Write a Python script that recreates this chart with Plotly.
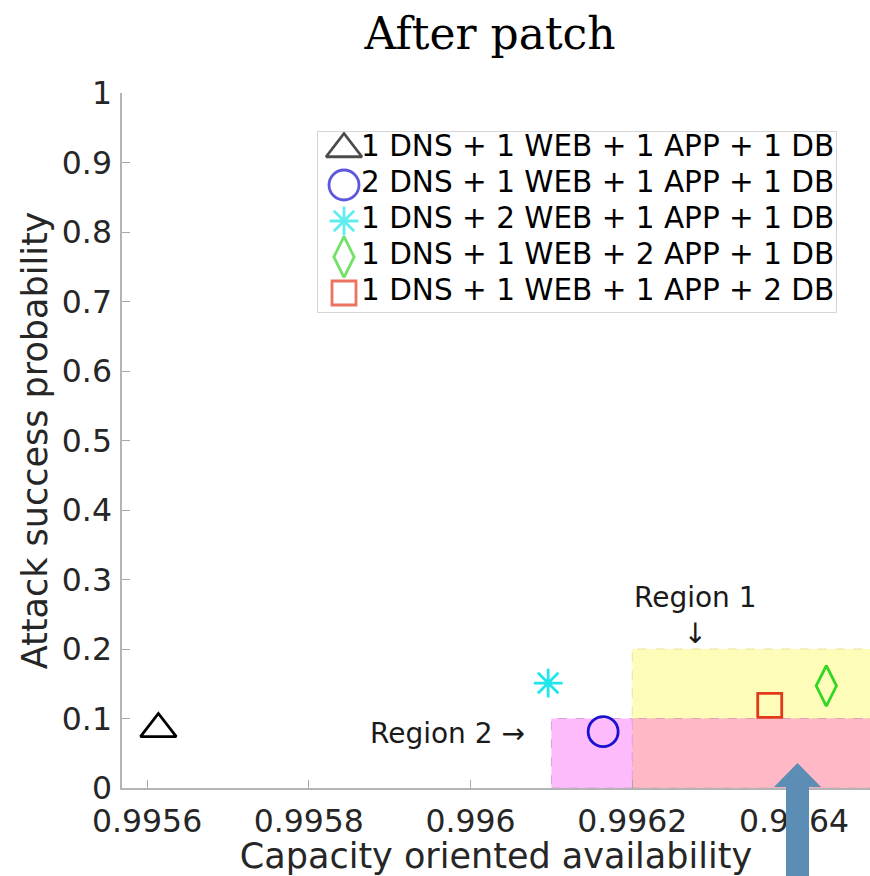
import plotly.graph_objects as go

# ---------------- data ----------------
labels = [
    "1 DNS + 1 WEB + 1 APP + 1 DB",
    "2 DNS + 1 WEB + 1 APP + 1 DB",
    "1 DNS + 2 WEB + 1 APP + 1 DB",
    "1 DNS + 1 WEB + 2 APP + 1 DB",
    "1 DNS + 1 WEB + 1 APP + 2 DB",
]
availability = [0.995614, 0.996164, 0.996096, 0.996440, 0.996370]
attack_prob = [0.085, 0.081, 0.151, 0.147, 0.119]

symbols = ["triangle-up-open", "circle-open", "asterisk-open", "diamond-tall-open", "square-open"]
colors = ["#000000", "#1a10d0", "#1ee6ea", "#34d624", "#e2381c"]
sizes = [31, 30, 24, 29, 24]

x_ticks = [0.9956, 0.9958, 0.996, 0.9962, 0.9964]
x_ticktext = ["0.9956", "0.9958", "0.996", "0.9962", "0.9964"]
y_ticks = [0, 0.1, 0.2, 0.3, 0.4, 0.5, 0.6, 0.7, 0.8, 0.9, 1]
y_ticktext = ["0", "0.1", "0.2", "0.3", "0.4", "0.5", "0.6", "0.7", "0.8", "0.9", "1"]

x_range = [0.995569, 0.996494]
y_range = [0, 1]

# regions: (x0, x1, y0, y1)
region1_box = (0.9962, 0.9966, 0.1, 0.2)
region_pink_box = (0.9962, 0.9966, 0.0, 0.1)
region2_box = (0.99610, 0.9962, 0.0, 0.1)

# ---------------- layout geometry (pixels) ----------------
W, H = 870, 876
ML, MR, MT, MB = 122, 0, 93, 88
PW, PH = W - ML - MR, H - MT - MB


def px(x):
    return (x - ML) / PW


def py(y):
    return (H - MB - y) / PH


fig = go.Figure()

# data markers
for i in range(len(labels)):
    fig.add_trace(go.Scatter(
        x=[availability[i]], y=[attack_prob[i]], mode="markers", name=labels[i],
        showlegend=False,
        marker=dict(symbol=symbols[i], size=sizes[i], color=colors[i],
                    line=dict(color=colors[i], width=2.8)),
        cliponaxis=False,
    ))

# custom legend (drawn on a helper axis)
leg_w, leg_h = 518, 180
leg_rows = [17 + 36 * i for i in range(len(labels))]
fig.add_trace(go.Scatter(
    x=[26] * len(labels), y=leg_rows, mode="markers", showlegend=False,
    xaxis="x3", yaxis="y3", hoverinfo="skip",
    marker=dict(symbol=symbols, size=sizes, color=colors,
                line=dict(color=colors, width=2.8)),
))
fig.add_trace(go.Scatter(
    x=[43] * len(labels), y=leg_rows, mode="text", text=labels,
    textposition="middle right", showlegend=False,
    xaxis="x3", yaxis="y3", hoverinfo="skip",
    textfont=dict(family="DejaVu Sans", size=29.5, color="#000000"),
))

shapes = []
# regions
for (box, fill, line) in [
    (region1_box, "#fdfcb8", "#e6e39a"),
    (region_pink_box, "#ffb8c6", "#e8a0b0"),
    (region2_box, "#fdbbfb", "#d9a0d9"),
]:
    shapes.append(dict(type="rect", xref="x", yref="y", x0=box[0], x1=box[1], y0=box[2], y1=box[3],
                       fillcolor=fill, line=dict(color=line, width=1, dash="dash"), layer="below"))

# legend box
legx0, legx1 = px(318), px(836)
legy1, legy0 = py(132), py(312)
shapes.append(dict(type="rect", xref="paper", yref="paper", x0=legx0, x1=legx1, y0=legy0, y1=legy1,
                   fillcolor="white", line=dict(color="#c8c8c8", width=1.5), layer="below"))

# blue arrow overlay
cx = 797.5
pts = [(786, 880), (786, 787), (774, 787), (cx, 763), (821, 787), (809, 787), (809, 880)]
path = "M " + " L ".join(f"{px(a):.5f},{py(b):.5f}" for a, b in pts) + " Z"
shapes.append(dict(type="path", xref="paper", yref="paper", path=path,
                   fillcolor="#5b8db5", line=dict(width=0), layer="above"))

region_font = dict(family="DejaVu Sans", size=28, color="#1a1a1a")
annotations = [
    dict(x=0.996278, y=0.196, xref="x", yref="y", text="Region 1<br>↓", showarrow=False,
         xanchor="center", yanchor="bottom", font=region_font),
    dict(x=0.99607, y=0.079, xref="x", yref="y", text="Region 2 →", showarrow=False,
         xanchor="right", yanchor="middle", font=region_font),
]

tick_font = dict(family="DejaVu Sans", size=31.5, color="#262626")
title_font = dict(family="DejaVu Sans", size=35, color="#262626")
fig.update_layout(
    width=W, height=H,
    margin=dict(l=ML, r=MR, t=MT, b=MB),
    paper_bgcolor="white", plot_bgcolor="white",
    title=dict(text="After patch", x=490 / W, xanchor="center", xref="container",
               y=1 - 34 / H, yanchor="middle", yref="container",
               font=dict(family="DejaVu Serif", size=44, color="#000000")),
    xaxis=dict(range=x_range, tickvals=x_ticks, ticktext=x_ticktext, ticks="inside", ticklen=8,
               tickcolor="#a8a8a8", showline=True, linecolor="#b4b4b4", linewidth=1.5,
               showgrid=False, zeroline=False, tickfont=tick_font, ticklabelstandoff=4,
               title=dict(text="Capacity oriented availability", font=title_font, standoff=1)),
    yaxis=dict(range=y_range, tickvals=y_ticks, ticktext=y_ticktext, ticks="inside", ticklen=8,
               tickcolor="#a8a8a8", showline=True, linecolor="#b4b4b4", linewidth=1.5,
               showgrid=False, zeroline=False, tickfont=tick_font, ticklabelstandoff=2,
               title=dict(text="Attack success probability", font=title_font, standoff=4)),
    xaxis2=dict(overlaying="x", side="top", matches="x", range=x_range, tickvals=x_ticks,
                showticklabels=False, ticks="inside", ticklen=8, tickcolor="#a8a8a8",
                showline=True, linecolor="#b4b4b4", linewidth=1.5, showgrid=False, zeroline=False),
    xaxis3=dict(domain=[legx0, legx1], range=[0, leg_w], visible=False, anchor="y3"),
    yaxis3=dict(domain=[legy0, legy1], range=[leg_h, 0], visible=False, anchor="x3"),
    shapes=shapes,
    annotations=annotations,
)

fig.write_html("out.html", config={"displayModeBar": False},
               post_script="document.body.style.margin='0px';document.body.style.overflow='hidden';")
